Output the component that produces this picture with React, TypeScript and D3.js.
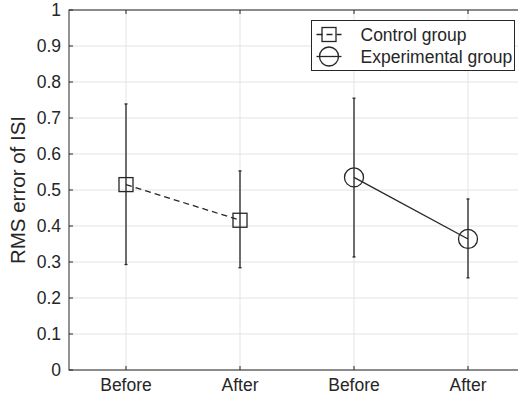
import React, { useEffect, useRef } from 'react'
import * as d3 from 'd3'

const categories = ['Before', 'After', 'Before', 'After']
const controlMean = [0.515, 0.416]
const controlLow = [0.293, 0.284]
const controlHigh = [0.739, 0.553]
const expMean = [0.535, 0.364]
const expLow = [0.314, 0.256]
const expHigh = [0.755, 0.475]
const yTicks = [0, 0.1, 0.2, 0.3, 0.4, 0.5, 0.6, 0.7, 0.8, 0.9, 1]
const legendLabels = ['Control group', 'Experimental group']

const App: React.FC = () => {
    const svgRef = useRef<SVGSVGElement | null>(null)

    useEffect(() => {
        if (!svgRef.current) return
        const height = 397
        const margin = { top: 10, left: 69, bottom: 27 }
        const font = 'Liberation Sans, Arial, Helvetica, sans-serif'
        const ink = '#262626'
        const grid = '#e3e3e3'

        const svg = d3.select(svgRef.current)
        svg.selectAll('*').remove()

        // plot box runs slightly past the right edge of the picture
        const x = d3.scaleLinear().domain([0.5, 4.5]).range([margin.left, 525])
        const y = d3
            .scaleLinear()
            .domain([0, 1])
            .range([height - margin.bottom, margin.top])

        const g = svg.append('g')

        // grid
        g.selectAll('.hgrid')
            .data(yTicks)
            .join('line')
            .attr('x1', x(0.5))
            .attr('x2', x(4.5))
            .attr('y1', (d) => y(d))
            .attr('y2', (d) => y(d))
            .attr('stroke', grid)
        g.selectAll('.vgrid')
            .data(categories)
            .join('line')
            .attr('x1', (_, i) => x(i + 1))
            .attr('x2', (_, i) => x(i + 1))
            .attr('y1', y(0))
            .attr('y2', y(1))
            .attr('stroke', grid)

        // axes box
        g.append('rect')
            .attr('x', x(0.5))
            .attr('y', y(1))
            .attr('width', x(4.5) - x(0.5))
            .attr('height', y(0) - y(1))
            .attr('fill', 'none')
            .attr('stroke', ink)

        // y ticks
        g.selectAll('.yt')
            .data(yTicks)
            .join('line')
            .attr('x1', x(0.5))
            .attr('x2', x(0.5) + 4)
            .attr('y1', (d) => y(d))
            .attr('y2', (d) => y(d))
            .attr('stroke', ink)
        g.selectAll('.yl')
            .data(yTicks)
            .join('text')
            .attr('x', x(0.5) - 8)
            .attr('y', (d) => y(d))
            .attr('dy', '0.36em')
            .attr('text-anchor', 'end')
            .attr('font-family', font)
            .attr('font-size', 17.5)
            .attr('fill', ink)
            .text((d) => d3.format('~g')(d))

        // x ticks (top and bottom)
        categories.forEach((c, i) => {
            g.append('line')
                .attr('x1', x(i + 1))
                .attr('x2', x(i + 1))
                .attr('y1', y(0))
                .attr('y2', y(0) - 4)
                .attr('stroke', ink)
            g.append('line')
                .attr('x1', x(i + 1))
                .attr('x2', x(i + 1))
                .attr('y1', y(1))
                .attr('y2', y(1) + 4)
                .attr('stroke', ink)
            g.append('text')
                .attr('x', x(i + 1))
                .attr('y', y(0) + 20.5)
                .attr('text-anchor', 'middle')
                .attr('font-family', font)
                .attr('font-size', 17.5)
                .attr('fill', ink)
                .text(c)
        })

        // y label
        g.append('text')
            .attr('transform', `translate(25,${(y(0) + y(1)) / 2}) rotate(-90)`)
            .attr('text-anchor', 'middle')
            .attr('font-family', font)
            .attr('font-size', 20.5)
            .attr('fill', ink)
            .text('RMS error of ISI')

        const drawGroup = (
            xs: number[],
            mean: number[],
            low: number[],
            high: number[],
            dashed: boolean,
            marker: 'square' | 'circle'
        ) => {
            const pts: [number, number][] = mean.map((m, i) => [x(xs[i]), y(m)])
            g.append('path')
                .attr('d', d3.line()(pts))
                .attr('fill', 'none')
                .attr('stroke', ink)
                .attr('stroke-width', 1.3)
                .attr('stroke-dasharray', dashed ? '6,4' : null)
            mean.forEach((m, i) => {
                const cx = x(xs[i])
                g.append('line')
                    .attr('x1', cx)
                    .attr('x2', cx)
                    .attr('y1', y(low[i]))
                    .attr('y2', y(high[i]))
                    .attr('stroke', ink)
                    .attr('stroke-width', 1.3)
                ;[low[i], high[i]].forEach((v) => {
                    g.append('line')
                        .attr('x1', cx - 1.5)
                        .attr('x2', cx + 1.5)
                        .attr('y1', y(v))
                        .attr('y2', y(v))
                        .attr('stroke', ink)
                        .attr('stroke-width', 1.3)
                })
                if (marker === 'square') {
                    g.append('rect')
                        .attr('x', cx - 7)
                        .attr('y', y(m) - 7)
                        .attr('width', 14)
                        .attr('height', 14)
                        .attr('fill', 'none')
                        .attr('stroke', ink)
                        .attr('stroke-width', 1.3)
                } else {
                    g.append('circle')
                        .attr('cx', cx)
                        .attr('cy', y(m))
                        .attr('r', 9.5)
                        .attr('fill', 'none')
                        .attr('stroke', ink)
                        .attr('stroke-width', 1.3)
                }
            })
        }

        drawGroup([1, 2], controlMean, controlLow, controlHigh, true, 'square')
        drawGroup([3, 4], expMean, expLow, expHigh, false, 'circle')

        // legend
        const lg = g.append('g').attr('transform', 'translate(311.5,20.5)')
        lg.append('rect')
            .attr('width', 203)
            .attr('height', 50)
            .attr('fill', 'white')
            .attr('stroke', ink)
        legendLabels.forEach((label, i) => {
            const cy = 14 + i * 22
            const dashed = i === 0
            lg.append('line')
                .attr('x1', 5)
                .attr('x2', 30)
                .attr('y1', cy)
                .attr('y2', cy)
                .attr('stroke', ink)
                .attr('stroke-width', 1.3)
                .attr('stroke-dasharray', dashed ? '6,4' : null)
            if (i === 0) {
                lg.append('rect')
                    .attr('x', 10.5)
                    .attr('y', cy - 7)
                    .attr('width', 14)
                    .attr('height', 14)
                    .attr('fill', 'none')
                    .attr('stroke', ink)
                    .attr('stroke-width', 1.3)
            } else {
                lg.append('circle')
                    .attr('cx', 17.5)
                    .attr('cy', cy)
                    .attr('r', 9.5)
                    .attr('fill', 'none')
                    .attr('stroke', ink)
                    .attr('stroke-width', 1.3)
            }
            lg.append('text')
                .attr('x', 49)
                .attr('y', cy)
                .attr('dy', '0.36em')
                .attr('font-family', font)
                .attr('font-size', 17.5)
                .attr('fill', ink)
                .text(label)
        })
    }, [])

    return (
        <svg
            ref={svgRef}
            width={518}
            height={397}
            style={{ position: 'fixed', left: 0, top: 0, background: 'white' }}
        ></svg>
    )
}

export default App
